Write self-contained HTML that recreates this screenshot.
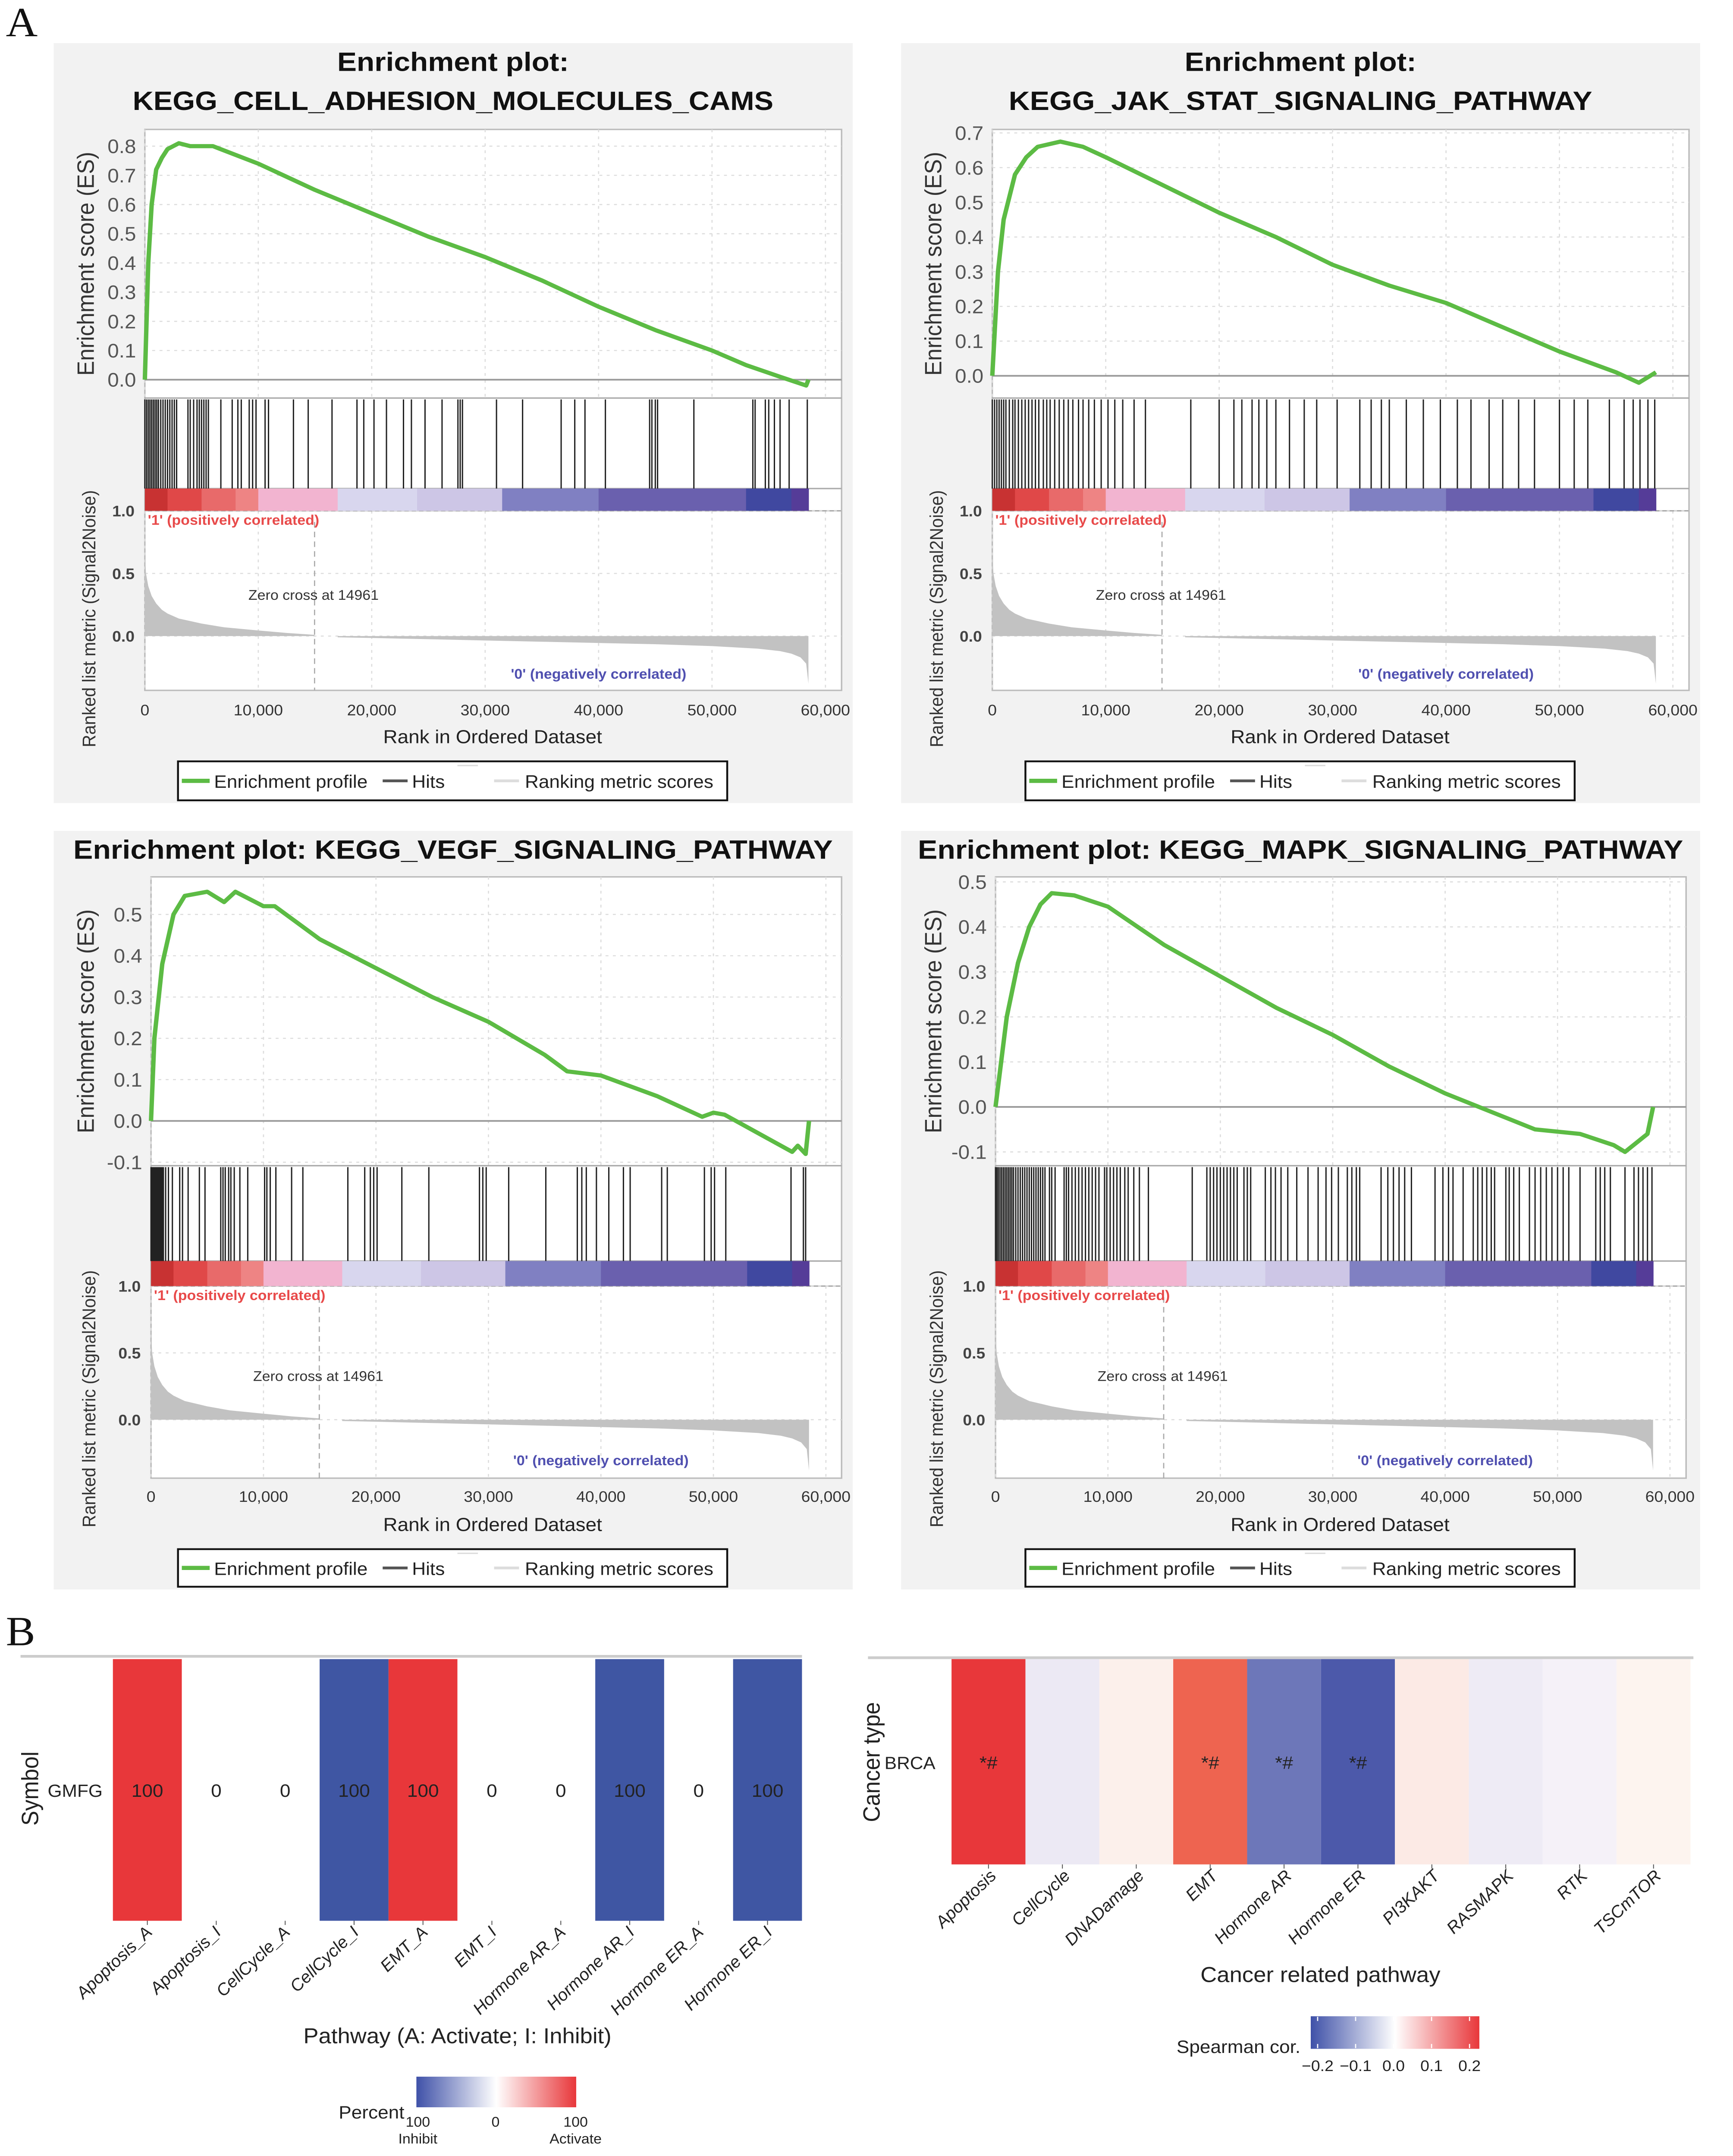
<!DOCTYPE html>
<html><head><meta charset="utf-8"><style>
html,body{margin:0;padding:0;background:#fff;overflow:hidden;width:100vw;height:100vh;}
svg{display:block;position:absolute;left:0;top:0;width:100vw;height:100vh;font-family:"Liberation Sans",Arial,sans-serif;}
</style></head><body>
<svg id="fig" xmlns="http://www.w3.org/2000/svg" viewBox="0 0 1182 1549" preserveAspectRatio="none">
<rect x="0" y="0" width="1182" height="1549" fill="#fff"/>
<text x="4" y="26" font-family="Liberation Serif,serif" font-size="30" fill="#111">A</text>
<text x="4" y="1182" font-family="Liberation Serif,serif" font-size="30" fill="#111">B</text>
<g id="gsea"></g>
<g id="heatB"></g>
</svg>
<script>
// ---- GSEA data ----
const esRanks1=[0,300,600,1000,1500,2000,3000,4000,6000,10000,15000,20000,25000,30000,35000,40000,45000,50000,53000,56000,58300,58500];
const esVals1=[0,0.4,0.6,0.72,0.76,0.79,0.81,0.80,0.80,0.74,0.65,0.57,0.49,0.42,0.34,0.25,0.17,0.10,0.05,0.01,-0.02,0.0];
const esRanks2=[0,500,1000,2000,3000,4000,6000,8000,10000,15000,20000,25000,30000,35000,40000,45000,50000,55000,57000,58000,58500];
const esVals2=[0,0.3,0.45,0.58,0.63,0.66,0.675,0.66,0.63,0.55,0.47,0.40,0.32,0.26,0.21,0.14,0.07,0.01,-0.02,0.0,0.01];
const esRanks3=[0,300,1000,2000,3000,5000,6500,7500,10000,11000,15000,20000,25000,30000,35000,37000,40000,42000,45000,49000,50000,51000,57000,57500,58200,58500];
const esVals3=[0,0.2,0.38,0.5,0.545,0.555,0.53,0.555,0.52,0.52,0.44,0.37,0.30,0.24,0.16,0.12,0.11,0.09,0.06,0.01,0.02,0.015,-0.075,-0.06,-0.08,0.0];
const esRanks4=[0,500,1000,2000,3000,4000,5000,7000,10000,15000,20000,25000,30000,35000,40000,43000,46000,48000,52000,55000,56000,57000,58000,58500];
const esVals4=[0,0.1,0.2,0.32,0.40,0.45,0.475,0.47,0.445,0.36,0.29,0.22,0.16,0.09,0.03,0.0,-0.03,-0.05,-0.06,-0.085,-0.1,-0.08,-0.06,0.0];
const hits1=[0,150,300,450,600,750,900,1050,1200,1400,1600,1800,2000,2200,2400,2600,2800,3800,4000,4300,4600,4800,5000,5200,5400,5600,6700,7700,8200,8500,9200,9500,9800,10600,10900,13100,14400,16500,18700,19300,20200,21300,22800,23500,24700,26200,27600,27800,28000,31000,33300,36700,37900,38800,40600,44500,44700,45000,45200,48400,53600,53800,54700,55000,55500,56000,56800,58400];
const hits2=[0,200,400,600,800,1000,1200,1500,1800,2000,2300,2600,2900,3200,3500,3800,4100,4500,4800,5100,5500,5900,6300,6700,7100,7600,8000,8500,9000,9600,10200,10800,11500,12500,13500,17500,20000,21300,22000,22900,23500,24200,25000,26200,27500,28600,30400,32400,33400,34300,35000,36500,38000,39500,41000,42200,43800,45000,46400,47800,50000,51300,52500,54400,55700,56500,57100,57800,58400];
const hits3=[0,100,200,300,400,500,600,700,800,900,1000,1100,1300,1550,1900,2550,2800,3300,4300,4800,6200,6400,6600,6900,7100,7400,7900,8600,10100,10300,10600,11100,12500,13500,17500,19000,19500,19800,20100,22300,24700,29200,29500,29800,31800,35100,37900,38300,38700,39600,40700,42000,42600,45400,45900,49200,49800,50100,51100,56900,58000,58200];
const hits4=[0,120,250,400,550,700,850,1000,1150,1300,1450,1600,1800,2000,2200,2400,2600,2800,3000,3200,3400,3600,3800,4000,4200,4400,4800,5000,5300,6100,6300,6500,6800,7100,7400,7700,8000,8300,8600,8900,9200,9700,9900,10200,10500,10800,11100,11500,11800,12300,12800,13600,17500,18800,19100,19400,19700,20000,20300,20600,20900,21200,21500,22100,22400,22700,24000,24500,24900,25400,26000,26800,27800,28700,29400,29900,30500,31300,31700,32100,32400,34300,34900,35400,35900,36400,37000,39100,39800,40300,40700,41600,42500,42900,43300,43700,44100,44400,45400,45700,46100,46600,47500,48000,48500,49000,49500,50000,50500,51000,52000,53400,53800,54200,54700,56000,56800,57200,57600,58000,58400];
const metricRanks=[0,100,300,600,1000,1500,2000,3000,4000,5000,7000,10000,12500,14961];
const metricVals=[0.68,0.5,0.4,0.32,0.26,0.21,0.18,0.14,0.12,0.10,0.07,0.045,0.025,0.01];
const metricNegRanks=[17000,20000,25000,30000,35000,40000,45000,50000,54000,56000,57000,57800,58300,58500];
const metricNegVals=[-0.01,-0.015,-0.025,-0.035,-0.045,-0.055,-0.065,-0.08,-0.10,-0.12,-0.14,-0.17,-0.22,-0.38];
const barStops=[0,2000,5000,8000,10000,17000,24000,31500,40000,53000,57000,58500];
const barColors=['#c83232','#e04848','#e86a6a','#ee8484','#f2b4d0','#d8d6ee','#cdc6e6','#8080c2','#6a60ae','#4048a0','#553c98'];
const xTicks=[0,10000,20000,30000,40000,50000,60000];
const xTickLabels=['0','10,000','20,000','30,000','40,000','50,000','60,000'];

// ---- Heatmap B data ----
const pathwaysL=['Apoptosis_A','Apoptosis_I','CellCycle_A','CellCycle_I','EMT_A','EMT_I','Hormone AR_A','Hormone AR_I','Hormone ER_A','Hormone ER_I'];
const percentVals=[100,0,0,-100,100,0,0,-100,0,-100];
const percentLabels=['100','0','0','100','100','0','0','100','0','100'];
const pathwaysR=['Apoptosis','CellCycle','DNADamage','EMT','Hormone AR','Hormone ER','PI3KAKT','RASMAPK','RTK','TSCmTOR'];
const spearVals=[0.22,-0.015,0.008,0.17,-0.17,-0.21,0.015,-0.012,-0.004,0.004];
const sigMarks=['*#','','','*#','*#','*#','','','',''];
const spearTicks=[-0.2,-0.1,0,0.1,0.2];
const spearTickLabels=['−0.2','−0.1','0.0','0.1','0.2'];

const NS='http://www.w3.org/2000/svg';
function mk(parent,tag,attrs,txt){const e=document.createElementNS(NS,tag);for(const k in attrs)e.setAttribute(k,attrs[k]);if(txt!==undefined)e.textContent=txt;parent.appendChild(e);return e;}

const panels=[
 {dx:0,bgY:31,bgH:546,titles:['Enrichment plot:','KEGG_CELL_ADHESION_MOLECULES_CAMS'],titleY:[51,79],titleW:[158,437],x0:98.8,x1:563,pl:98.8,pr:574,esTop:93,esBot:286,esA:[0.8,105],esB:[0,272.8],esTicks:[0,0.1,0.2,0.3,0.4,0.5,0.6,0.7,0.8],hitTop:286,barTop:351,barBot:367,m0:457,mBot:496,xtY:514,xtitleY:534,legY:547,legH:28,er:esRanks1,ev:esVals1,hits:hits1,name:'cams'},
 {dx:578,bgY:31,bgH:546,titles:['Enrichment plot:','KEGG_JAK_STAT_SIGNALING_PATHWAY'],titleY:[51,79],titleW:[158,398],x0:98.8,x1:563,pl:98.8,pr:574,esTop:93,esBot:286,esA:[0.7,95.5],esB:[0,270],esTicks:[0,0.1,0.2,0.3,0.4,0.5,0.6,0.7],hitTop:286,barTop:351,barBot:367,m0:457,mBot:496,xtY:514,xtitleY:534,legY:547,legH:28,er:esRanks2,ev:esVals2,hits:hits2,name:'jak-stat'},
 {dx:0,bgY:597,bgH:545,titles:['Enrichment plot: KEGG_VEGF_SIGNALING_PATHWAY'],titleY:[617],titleW:[518],x0:103,x1:563.3,pl:103,pr:574,esTop:630,esBot:837.5,esA:[0.5,657],esB:[-0.1,835],esTicks:[-0.1,0,0.1,0.2,0.3,0.4,0.5],hitTop:837.5,barTop:906,barBot:924,m0:1020,mBot:1062,xtY:1079,xtitleY:1100,legY:1113,legH:27,er:esRanks3,ev:esVals3,hits:hits3,name:'vegf'},
 {dx:578,bgY:597,bgH:545,titles:['Enrichment plot: KEGG_MAPK_SIGNALING_PATHWAY'],titleY:[617],titleW:[522],x0:101,x1:561,pl:101,pr:572,esTop:630,esBot:837.5,esA:[0.5,633.6],esB:[-0.1,827.6],esTicks:[-0.1,0,0.1,0.2,0.3,0.4,0.5],hitTop:837.5,barTop:906,barBot:924,m0:1020,mBot:1062,xtY:1079,xtitleY:1100,legY:1113,legH:27,er:esRanks4,ev:esVals4,hits:hits4,name:'mapk'}
];

const G=document.getElementById('gsea');
panels.forEach(p=>{
 const g=mk(G,'g',{transform:`translate(${p.dx},0)`});
 
 
 const X=r=>p.x0+(r/60000)*(p.x1-p.x0);
 const k=(p.esA[1]-p.esB[1])/(p.esA[0]-p.esB[0]);
 const Y=v=>p.esB[1]+(v-p.esB[0])*k;
 const mk2=(p.m0-p.barBot);
 const M=v=>p.m0-v*mk2;
 const bg=mk(g,'rect',{x:36.6,y:p.bgY,width:545,height:p.bgH,fill:'#f2f2f2'});
 
 
 p.titles.forEach((t,i)=>{
  const tt=mk(g,'text',{x:309,y:p.titleY[i],'text-anchor':'middle','font-size':19,'font-weight':'bold',fill:'#111',textLength:p.titleW[i],lengthAdjust:'spacingAndGlyphs'},t);
  
  
 });
 const pa=mk(g,'rect',{x:p.pl,y:p.esTop,width:p.pr-p.pl,height:p.mBot-p.esTop,fill:'#fff',stroke:'#bbb','stroke-width':1});
 
 
 xTicks.forEach((t,i)=>{
  [[p.esTop,p.esBot],[p.barBot,p.mBot]].forEach(([a,b])=>{
   const gl=mk(g,'line',{x1:X(t),x2:X(t),y1:a,y2:b,stroke:'#ddd','stroke-dasharray':'2,3','stroke-width':0.8});
   
   
  });
  const tl=mk(g,'text',{x:X(t),y:p.xtY,'text-anchor':'middle','font-size':11,fill:'#333'},xTickLabels[i]);
  
  
 });
 p.esTicks.forEach(t=>{
  const gl=mk(g,'line',{x1:p.pl,x2:p.pr,y1:Y(t),y2:Y(t),stroke:t===0?'#999':'#ddd','stroke-dasharray':t===0?'':'2,3','stroke-width':t===0?1.2:0.8});
  
  
  const tl=mk(g,'text',{x:p.pl-6,y:Y(t)+5,'text-anchor':'end','font-size':14,fill:'#555'},t.toFixed(1));
  
  
 });
 [p.esBot,p.barTop,p.barBot].forEach(yy=>{const l=mk(g,'line',{x1:p.pl,x2:p.pr,y1:yy,y2:yy,stroke:'#aaa','stroke-width':1});});
 [1.0,0.5,0.0].forEach(t=>{
  const gl=mk(g,'line',{x1:p.pl,x2:p.pr,y1:M(t),y2:M(t),stroke:'#ddd','stroke-dasharray':'2,3','stroke-width':0.8});
  
  
  const tl=mk(g,'text',{x:p.pl-7,y:M(t)+4,'text-anchor':'end','font-size':11,'font-weight':'bold',fill:'#444'},t.toFixed(1));
  
  
 });
 for(let i=0;i<barColors.length;i++){
  const r=mk(g,'rect',{x:X(barStops[i]),y:p.barTop,width:X(barStops[i+1])-X(barStops[i])+0.3,height:p.barBot-p.barTop,fill:barColors[i]});
  
  
 }
 p.hits.forEach(h=>{
  const l=mk(g,'line',{x1:X(h),x2:X(h),y1:p.hitTop+1,y2:p.barTop,stroke:'#222','stroke-width':0.9});
  
  
 });
 let d=`M${X(metricRanks[0])},${M(0)}`;
 metricRanks.forEach((r,i)=>{d+=` L${X(r)},${M(metricVals[i])}`;});
 d+=` L${X(metricRanks[metricRanks.length-1])},${M(0)}Z`;
 const mp=mk(g,'path',{d,fill:'#c2c2c2'});
 
 
 let d2=`M${X(metricNegRanks[0])},${M(0)}`;
 metricNegRanks.forEach((r,i)=>{d2+=` L${X(r)},${M(metricNegVals[i])}`;});
 d2+=` L${X(metricNegRanks[metricNegRanks.length-1])},${M(0)}Z`;
 const mn=mk(g,'path',{d:d2,fill:'#c2c2c2'});
 
 
 const zc=mk(g,'line',{x1:X(14961),x2:X(14961),y1:p.barBot+8,y2:p.mBot,stroke:'#aaa','stroke-dasharray':'4,3','stroke-width':0.8});
 
 
 const zt=mk(g,'text',{x:X(15000)-1,y:M(0.29),'text-anchor':'middle','font-size':10,fill:'#333'},'Zero cross at 14961');
 
 
 const pt=mk(g,'text',{x:p.pl+2,y:p.barBot+10,'font-size':10,'font-weight':'bold',fill:'#e84a4a'},"'1' (positively correlated)");
 
 
 const nt=mk(g,'text',{x:X(40000),y:M(-0.34),'text-anchor':'middle','font-size':10,'font-weight':'bold',fill:'#5050b0'},"'0' (negatively correlated)");
 
 
 const pts=p.er.map((r,i)=>`${X(r)},${Y(p.ev[i])}`).join(' ');
 const el=mk(g,'polyline',{points:pts,fill:'none',stroke:'#5cbb44','stroke-width':3,'stroke-linejoin':'round'});
 
 
 const ey=(p.esTop+p.esBot)/2;
 const et=mk(g,'text',{x:0,y:0,transform:`translate(64,${ey}) rotate(-90)`,'text-anchor':'middle','font-size':16,fill:'#333'},'Enrichment score (ES)');
 
 
 const my=(p.barTop+p.mBot+30)/2+6;
 const mt=mk(g,'text',{x:0,y:0,transform:`translate(65,${my}) rotate(-90)`,'text-anchor':'middle','font-size':12.5,fill:'#333'},'Ranked list metric (Signal2Noise)');
 
 
 const xt=mk(g,'text',{x:336,y:p.xtitleY,'text-anchor':'middle','font-size':13.5,fill:'#222'},'Rank in Ordered Dataset');
 
 
 const lg=mk(g,'g',{});
 
 
 const ly=p.legY, lm=ly+p.legH/2;
 mk(lg,'rect',{x:121.4,y:ly,width:374.6,height:p.legH,fill:'#fff',stroke:'#111','stroke-width':1.3});
 mk(lg,'line',{x1:124,x2:143,y1:lm,y2:lm,stroke:'#5cbb44','stroke-width':3});
 mk(lg,'text',{x:146,y:lm+5,'font-size':13,fill:'#222'},'Enrichment profile');
 mk(lg,'line',{x1:261,x2:278,y1:lm,y2:lm,stroke:'#555','stroke-width':2});
 mk(lg,'text',{x:281,y:lm+5,'font-size':13,fill:'#222'},'Hits');
 mk(lg,'line',{x1:312,x2:326,y1:ly+3,y2:ly+3,stroke:'#ddd','stroke-width':1});
 mk(lg,'line',{x1:337,x2:354,y1:lm,y2:lm,stroke:'#ddd','stroke-width':2});
 mk(lg,'text',{x:358,y:lm+5,'font-size':13,fill:'#222'},'Ranking metric scores');
});

// ---- Part B ----
const H=document.getElementById('heatB');
function colLeft(v){if(v>0)return '#e8373a';if(v<0)return '#3f56a3';return '#fff';}
function lerp(a,b,t){return Math.round(a+(b-a)*t);}
function colR(v){const t=Math.min(1,Math.abs(v)/0.22);const c=v>0?[232,55,58]:[68,82,166];const w=v>0?[253,247,242]:[248,244,250];return `rgb(${lerp(w[0],c[0],t)},${lerp(w[1],c[1],t)},${lerp(w[2],c[2],t)})`;}
const tl1=mk(H,'line',{x1:14,x2:547,y1:1190,y2:1190,stroke:'#ccc','stroke-width':2});


const lx0=77,lw=47,ly0=1192,ly1=1380;
pathwaysL.forEach((pname,i)=>{
 const x=lx0+i*lw;
 const c=mk(H,'rect',{x:x,y:ly0,width:lw,height:ly1-ly0,fill:colLeft(percentVals[i])});
 
 
 const v=mk(H,'text',{x:x+lw/2,y:1291,'text-anchor':'middle','font-size':13,fill:'#222'},percentLabels[i]);
 
 
 mk(H,'line',{x1:x+lw/2,x2:x+lw/2,y1:ly1,y2:ly1+3,stroke:'#555','stroke-width':0.6});
 const lb=mk(H,'text',{x:0,y:0,transform:`translate(${x+lw/2+4},${ly1+9}) rotate(-45)`,'text-anchor':'end','font-size':12,'font-style':'italic',fill:'#222'},pname);
 
 
});
mk(H,'text',{x:70,y:1291,'text-anchor':'end','font-size':12.5,fill:'#222'},'GMFG');
const sym=mk(H,'text',{x:0,y:0,transform:'translate(26,1285) rotate(-90)','text-anchor':'middle','font-size':16,fill:'#222'},'Symbol');


const lxt=mk(H,'text',{x:312,y:1468,'text-anchor':'middle','font-size':15.5,fill:'#222'},'Pathway (A: Activate; I: Inhibit)');


const defs=mk(H,'defs',{});
const gr=mk(defs,'linearGradient',{id:'divg',x1:0,x2:1,y1:0,y2:0});
mk(gr,'stop',{offset:'0','stop-color':'#3f51a8'});
mk(gr,'stop',{offset:'0.5','stop-color':'#ffffff'});
mk(gr,'stop',{offset:'1','stop-color':'#e8373a'});
const pl=mk(H,'rect',{x:284,y:1492,width:109,height:22,fill:'url(#divg)'});


mk(H,'text',{x:231,y:1522,'font-size':13,fill:'#222'},'Percent');
mk(H,'text',{x:285,y:1528,'text-anchor':'middle','font-size':10,fill:'#222'},'100');
mk(H,'text',{x:338,y:1528,'text-anchor':'middle','font-size':10,fill:'#222'},'0');
mk(H,'text',{x:392.6,y:1528,'text-anchor':'middle','font-size':10,fill:'#222'},'100');
mk(H,'text',{x:285,y:1540,'text-anchor':'middle','font-size':10,fill:'#222'},'Inhibit');
mk(H,'text',{x:392.6,y:1540,'text-anchor':'middle','font-size':10,fill:'#222'},'Activate');
const tl2=mk(H,'line',{x1:592,x2:1155,y1:1191,y2:1191,stroke:'#ccc','stroke-width':2});


const rx0=649,rw=50.4,ry0=1192,ry1=1339.5;
pathwaysR.forEach((pname,i)=>{
 const x=rx0+i*rw;
 const c=mk(H,'rect',{x:x,y:ry0,width:rw,height:ry1-ry0,fill:(i===3?'#ee6450':colR(spearVals[i]))});
 
 
 if(sigMarks[i]){const s=mk(H,'text',{x:x+rw/2,y:1271,'text-anchor':'middle','font-size':13,fill:'#222'},sigMarks[i]);}
 mk(H,'line',{x1:x+rw/2,x2:x+rw/2,y1:ry1,y2:ry1+3,stroke:'#555','stroke-width':0.6});
 const lb=mk(H,'text',{x:0,y:0,transform:`translate(${x+rw/2+6},${ry1+9}) rotate(-45)`,'text-anchor':'end','font-size':12,'font-style':'italic',fill:'#222'},pname);
 
 
});
mk(H,'text',{x:638,y:1271,'text-anchor':'end','font-size':12.5,fill:'#222'},'BRCA');
const ct=mk(H,'text',{x:0,y:0,transform:'translate(600,1266) rotate(-90)','text-anchor':'middle','font-size':16,fill:'#222'},'Cancer type');


const rxt=mk(H,'text',{x:900.6,y:1424,'text-anchor':'middle','font-size':15.5,fill:'#222'},'Cancer related pathway');


const sl=mk(H,'rect',{x:894,y:1448.6,width:115,height:23.4,fill:'url(#divg)'});


const SX=v=>950.5+v*259;
spearTicks.forEach((t,i)=>{
 mk(H,'line',{x1:SX(t),x2:SX(t),y1:1449,y2:1452,stroke:'#fff','stroke-width':0.8});
 mk(H,'line',{x1:SX(t),x2:SX(t),y1:1468.5,y2:1471.5,stroke:'#fff','stroke-width':0.8});
 const lt=mk(H,'text',{x:SX(t),y:1488,'text-anchor':'middle','font-size':11,fill:'#222'},spearTickLabels[i]);
 
 
});
mk(H,'text',{x:887,y:1475,'text-anchor':'end','font-size':13,fill:'#222'},'Spearman cor.');
</script>
</body></html>
